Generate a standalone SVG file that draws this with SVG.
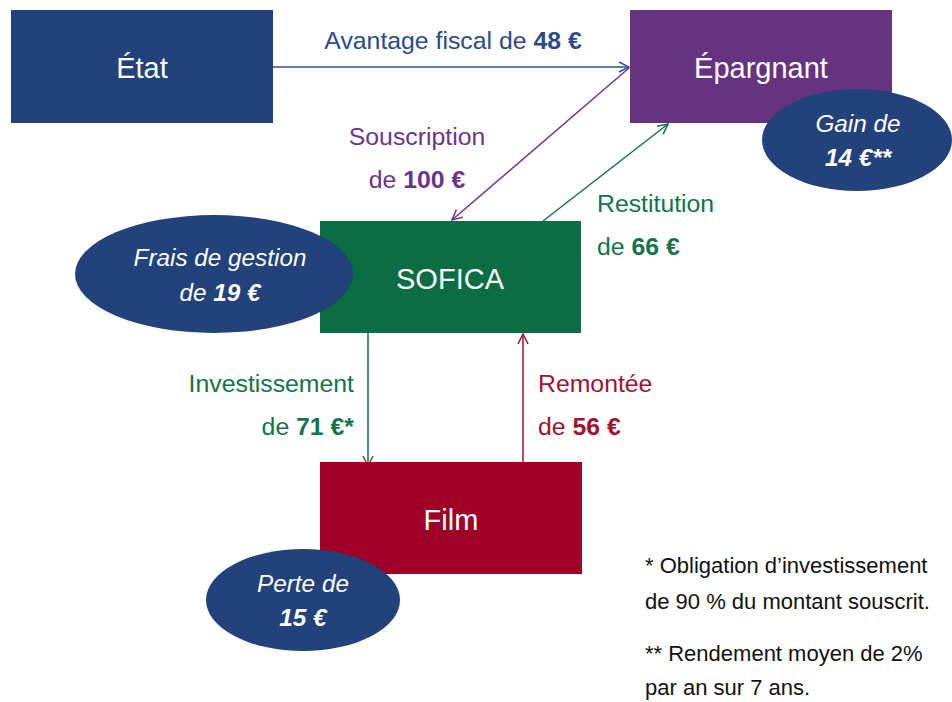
<svg xmlns="http://www.w3.org/2000/svg" width="952" height="702" viewBox="0 0 952 702">
<defs>
<style>
text{font-family:"Liberation Sans",Arial,sans-serif}
.node{font-size:29px;fill:#fff;text-anchor:middle}
.lbl{font-size:24.8px}
.ell{font-size:24.3px;fill:#fff;font-style:italic;text-anchor:middle}
.note{font-size:22px;fill:#111}
.b{font-weight:bold}
.blue{fill:#2A4B8C}
.purple{fill:#6B3488}
.green{fill:#137349}
.red{fill:#A0122F}
</style>
<marker id="aBlue" viewBox="0 0 12 12" refX="11" refY="6" markerWidth="12" markerHeight="12" markerUnits="userSpaceOnUse" orient="auto"><path d="M1,1 L11,6 L1,11" fill="none" stroke="#2F528F" stroke-width="1.5"/></marker>
<marker id="aPurple" viewBox="0 0 12 12" refX="11" refY="6" markerWidth="12" markerHeight="12" markerUnits="userSpaceOnUse" orient="auto"><path d="M1,1 L11,6 L1,11" fill="none" stroke="#7030A0" stroke-width="1.5"/></marker>
<marker id="aGreen" viewBox="0 0 12 12" refX="11" refY="6" markerWidth="12" markerHeight="12" markerUnits="userSpaceOnUse" orient="auto"><path d="M1,1 L11,6 L1,11" fill="none" stroke="#137349" stroke-width="1.5"/></marker>
<marker id="aRed" viewBox="0 0 12 12" refX="11" refY="6" markerWidth="12" markerHeight="12" markerUnits="userSpaceOnUse" orient="auto"><path d="M1,1 L11,6 L1,11" fill="none" stroke="#A0122F" stroke-width="1.5"/></marker>
</defs>
<rect width="952" height="702" fill="#fff"/>

<g id="connectors" fill="none" stroke-width="1.5">
<line x1="273" y1="67" x2="629" y2="67" stroke="#2F528F" marker-end="url(#aBlue)"/>
<line x1="629" y1="68" x2="452" y2="220" stroke="#7030A0" marker-end="url(#aPurple)"/>
<line x1="543" y1="221" x2="668" y2="124" stroke="#137349" marker-end="url(#aGreen)"/>
<line x1="368" y1="333" x2="368" y2="466" stroke="#137349" marker-end="url(#aGreen)"/>
<line x1="523" y1="462" x2="523" y2="334" stroke="#A0122F" marker-end="url(#aRed)"/>
</g>

<g id="etat">
<rect x="11" y="10" width="262" height="113" fill="#23417A"/>
<text class="node" x="142" y="78">État</text>
</g>
<g id="epargnant">
<rect x="630" y="10" width="262" height="113" fill="#663380"/>
<text class="node" x="761" y="78">Épargnant</text>
</g>
<g id="sofica">
<rect x="320" y="221" width="261" height="112" fill="#0C6C44"/>
<text class="node" x="450" y="289">SOFICA</text>
</g>
<g id="film">
<rect x="320" y="462" width="262" height="112" fill="#9E0027"/>
<text class="node" x="451" y="530">Film</text>
</g>

<g id="gain">
<ellipse cx="857" cy="140" rx="95" ry="51" fill="#23417A"/>
<text class="ell" x="858" y="132">Gain de</text>
<text class="ell b" x="858" y="166">14 €**</text>
</g>
<g id="frais">
<ellipse cx="214" cy="274" rx="139" ry="59" fill="#23417A"/>
<text class="ell" x="220" y="266">Frais de gestion</text>
<text class="ell" x="220" y="301">de <tspan class="b">19 €</tspan></text>
</g>
<g id="perte">
<ellipse cx="303" cy="600" rx="97" ry="51" fill="#23417A"/>
<text class="ell" x="303" y="592">Perte de</text>
<text class="ell b" x="303" y="626">15 €</text>
</g>

<g id="labels">
<text class="lbl blue" x="453" y="49" text-anchor="middle">Avantage fiscal de <tspan class="b">48 €</tspan></text>
<text class="lbl purple" x="417" y="145" text-anchor="middle">Souscription</text>
<text class="lbl purple" x="417" y="188" text-anchor="middle">de <tspan class="b">100 €</tspan></text>
<text class="lbl green" x="597" y="212">Restitution</text>
<text class="lbl green" x="597" y="255">de <tspan class="b">66 €</tspan></text>
<text class="lbl green" x="354" y="392" text-anchor="end">Investissement</text>
<text class="lbl green" x="354" y="435" text-anchor="end">de <tspan class="b">71 €*</tspan></text>
<text class="lbl red" x="538" y="392">Remontée</text>
<text class="lbl red" x="538" y="435">de <tspan class="b">56 €</tspan></text>
</g>

<g id="notes">
<text class="note" x="645" y="573">* Obligation d’investissement</text>
<text class="note" x="645" y="609">de 90 % du montant souscrit.</text>
<text class="note" x="645" y="661">** Rendement moyen de 2%</text>
<text class="note" x="645" y="695">par an sur 7 ans.</text>
</g>
</svg>
